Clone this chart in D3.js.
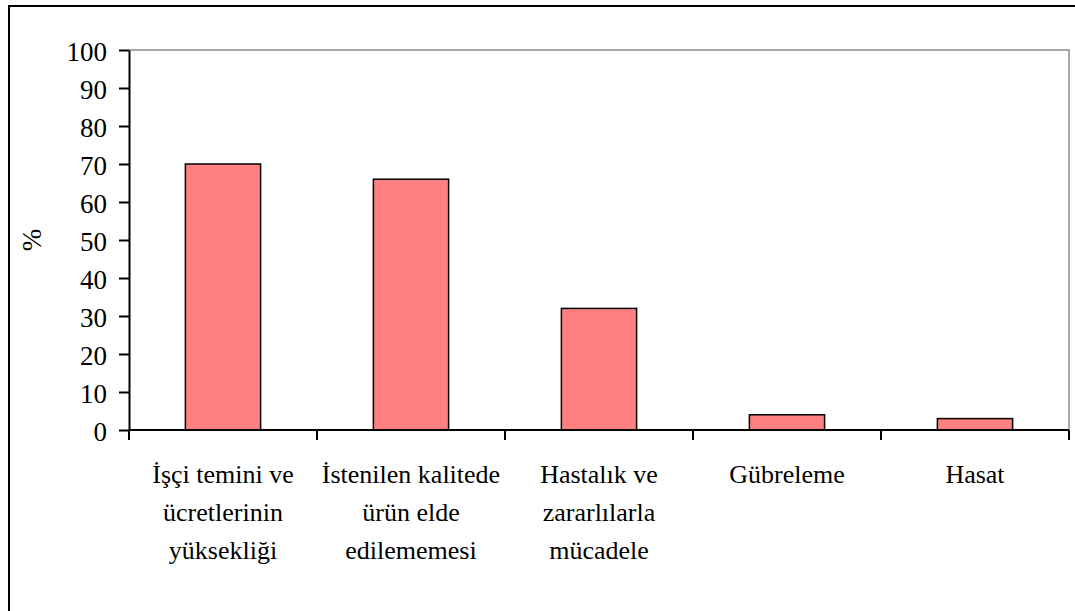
<!DOCTYPE html>
<html>
<head>
<meta charset="utf-8">
<script src="https://cdn.jsdelivr.net/npm/d3@7"></script>
<style>
  body { margin: 0; background: #fff; }
</style>
</head>
<body>
<svg width="1075" height="611"></svg>
<script>
// categories and values
const categories = [
  ['İşçi temini ve', 'ücretlerinin', 'yüksekliği'],
  ['İstenilen kalitede', 'ürün elde', 'edilememesi'],
  ['Hastalık ve', 'zararlılarla', 'mücadele'],
  ['Gübreleme'],
  ['Hasat']
];
const values = [70, 66, 32, 4, 3];
const yTicks = [0, 10, 20, 30, 40, 50, 60, 70, 80, 90, 100];

const data = categories.map((c, i) => ({ key: c.join(' '), lines: c, value: values[i] }));

const fontFamily = 'Liberation Serif, Tinos, Times New Roman, serif';

// chart size
const plotLeft = 129, plotRight = 1069, plotTop = 50, plotBottom = 430;

const svg = d3.select('svg');

// outer border (right and bottom edges run off the picture)
svg.append('rect')
    .attr('x', 9).attr('y', 6)
    .attr('width', 1100).attr('height', 640)
    .attr('fill', 'none').attr('stroke', '#000').attr('stroke-width', 2);

const xScale = d3.scaleBand()
    .domain(data.map(d => d.key))
    .range([plotLeft, plotRight])
    .paddingInner(0.6)
    .paddingOuter(0.3);

const yScale = d3.scaleLinear()
    .domain([0, 100])
    .range([plotBottom, plotTop]);

// plot area border (top and right, grey)
svg.append('path')
    .attr('d', `M${plotLeft},${plotTop}H${plotRight}V${plotBottom}`)
    .attr('fill', 'none').attr('stroke', '#8c8c8c').attr('stroke-width', 1.5);

// bars
svg.selectAll('.bar')
    .data(data)
    .enter()
    .append('rect')
    .attr('class', 'bar')
    .attr('x', d => xScale(d.key))
    .attr('y', d => yScale(d.value))
    .attr('width', xScale.bandwidth())
    .attr('height', d => yScale(0) - yScale(d.value))
    .attr('fill', '#ff8080')
    .attr('stroke', '#000')
    .attr('stroke-width', 1.5);

// y axis
const yAxis = svg.append('g')
    .attr('transform', `translate(${plotLeft},0)`)
    .call(d3.axisLeft(yScale).tickValues(yTicks).tickSize(10).tickPadding(12).tickSizeOuter(0))
    .attr('font-family', fontFamily)
    .attr('font-size', 27);
yAxis.select('.domain').attr('stroke', '#000').attr('stroke-width', 2);
yAxis.selectAll('.tick line').attr('stroke', '#000').attr('stroke-width', 2);
yAxis.selectAll('.tick text')
    .attr('dy', '0.38em')
    .attr('fill', '#000');

// x axis: line plus ticks on category boundaries
const xAxis = svg.append('g');
xAxis.append('line')
    .attr('x1', plotLeft).attr('x2', plotRight)
    .attr('y1', plotBottom).attr('y2', plotBottom)
    .attr('stroke', '#000').attr('stroke-width', 2);

const step = xScale.step();
const bounds = d3.range(data.length + 1).map(i => plotLeft + i * step);
xAxis.selectAll('.xtick')
    .data(bounds)
    .enter()
    .append('line')
    .attr('x1', d => d).attr('x2', d => d)
    .attr('y1', plotBottom).attr('y2', plotBottom + 10)
    .attr('stroke', '#000').attr('stroke-width', 2);

// category labels
const labels = svg.selectAll('.xlabel')
    .data(data)
    .enter()
    .append('text')
    .attr('class', 'xlabel')
    .attr('text-anchor', 'middle')
    .attr('font-family', fontFamily)
    .attr('font-size', 26);

labels.selectAll('tspan')
    .data(d => d.lines.map(l => ({ l, x: xScale(d.key) + xScale.bandwidth() / 2 })))
    .enter()
    .append('tspan')
    .attr('x', d => d.x)
    .attr('y', (d, i) => 483 + i * 38)
    .text(d => d.l);

// y title
svg.append('text')
    .attr('transform', 'translate(41,240) rotate(-90)')
    .attr('text-anchor', 'middle')
    .attr('font-family', fontFamily)
    .attr('font-size', 27)
    .text('%');
</script>
</body>
</html>
